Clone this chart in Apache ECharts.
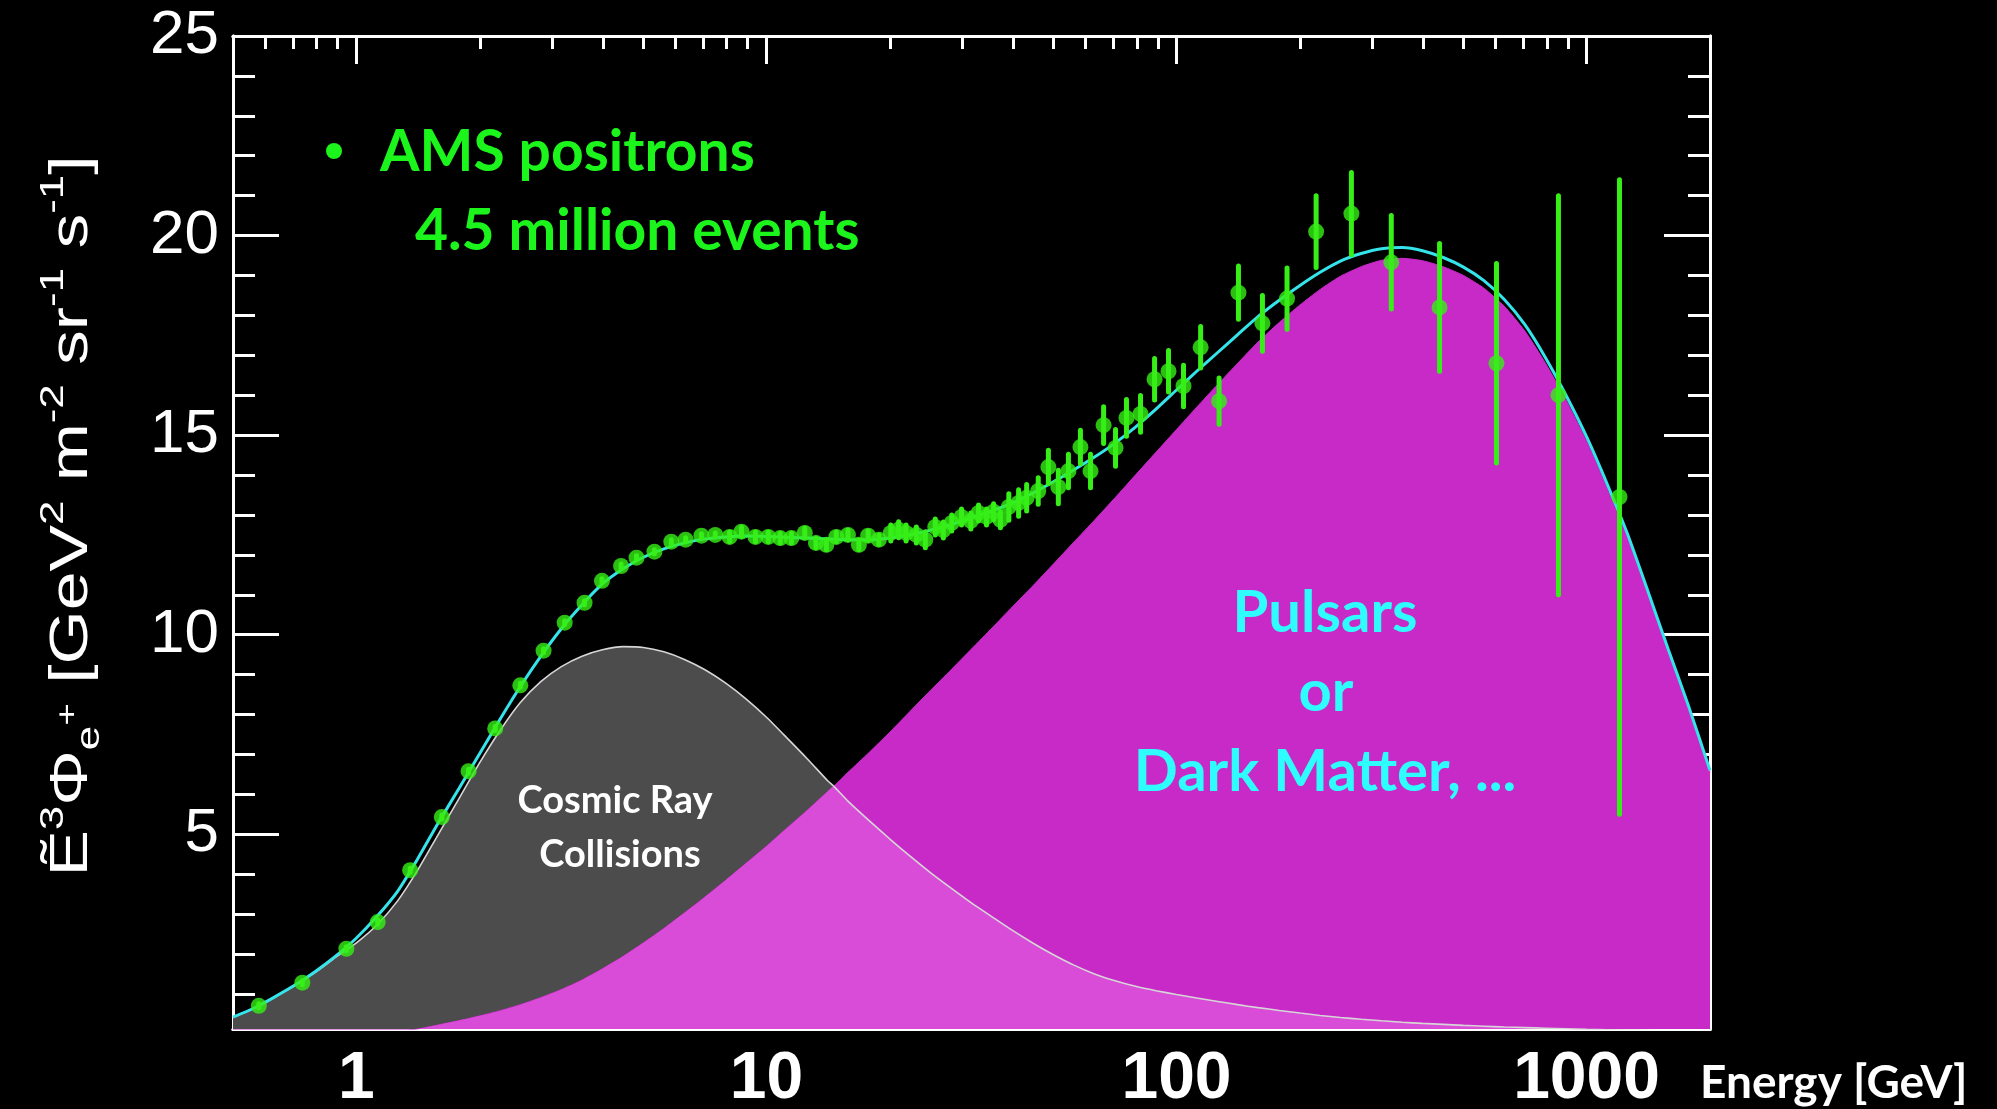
<!DOCTYPE html>
<html><head><meta charset="utf-8">
<script src="https://cdn.jsdelivr.net/npm/echarts@6/dist/echarts.min.js"></script>
<style>html,body{margin:0;padding:0;background:#000;overflow:hidden;} #chart{width:1997px;height:1109px;}</style>
</head><body><div id="chart"></div>
<script>
// ---- model curves ----
const energies = [0.5, 0.562, 0.631, 0.708, 0.794, 0.891, 1, 1.12, 1.26, 1.41, 1.58, 1.78, 2, 2.24, 2.51, 2.82, 3.16, 3.55, 3.98, 4.47, 5.01, 5.62, 6.31, 7.08, 7.94, 8.91, 10, 11.2, 12.6, 14.1, 14.6, 15.8, 17.8, 20, 22.4, 25.1, 28.2, 31.6, 35.5, 39.8, 44.7, 50.1, 56.2, 63.1, 70.8, 79.4, 89.1, 100, 112, 126, 141, 158, 178, 200, 224, 251, 282, 316, 355, 398, 447, 501, 562, 631, 708, 794, 891, 1000, 1120, 1260, 1410, 1580, 1780, 2000];
const crCollisions = [0.42, 0.64, 0.92, 1.21, 1.54, 1.92, 2.28, 2.72, 3.33, 4.10, 4.98, 5.90, 6.80, 7.60, 8.30, 8.83, 9.20, 9.46, 9.62, 9.70, 9.68, 9.57, 9.38, 9.12, 8.79, 8.39, 7.93, 7.42, 6.88, 6.34, 6.20, 5.83, 5.34, 4.88, 4.45, 4.04, 3.65, 3.28, 2.93, 2.59, 2.27, 1.98, 1.72, 1.50, 1.33, 1.19, 1.08, 0.985, 0.895, 0.81, 0.73, 0.655, 0.585, 0.52, 0.46, 0.41, 0.365, 0.325, 0.29, 0.26, 0.235, 0.21, 0.19, 0.17, 0.155, 0.14, 0.125, 0.11, 0.10, 0.09, 0.08, 0.07, 0.06, 0.05];
const sourceTerm = [0, 0, 0, 0, 0, 0, 0, 0, 0.05, 0.12, 0.22, 0.33, 0.45, 0.58, 0.73, 0.91, 1.11, 1.35, 1.63, 1.94, 2.28, 2.64, 3.03, 3.43, 3.84, 4.27, 4.70, 5.15, 5.61, 6.07, 6.20, 6.55, 7.05, 7.56, 8.08, 8.60, 9.12, 9.64, 10.17, 10.70, 11.23, 11.77, 12.32, 12.87, 13.43, 14.00, 14.57, 15.14, 15.70, 16.27, 16.80, 17.33, 17.82, 18.26, 18.65, 18.98, 19.22, 19.38, 19.43, 19.37, 19.22, 19.00, 18.68, 18.22, 17.60, 16.80, 15.88, 14.85, 13.70, 12.42, 11.02, 9.58, 8.10, 6.55];
const totalFit = [0.42, 0.64, 0.92, 1.22, 1.56, 1.95, 2.40, 2.93, 3.57, 4.38, 5.27, 6.15, 7.03, 7.88, 8.70, 9.47, 10.15, 10.75, 11.27, 11.65, 11.94, 12.15, 12.30, 12.40, 12.45, 12.47, 12.46, 12.44, 12.42, 12.40, 12.39, 12.38, 12.38, 12.42, 12.50, 12.62, 12.76, 12.93, 13.10, 13.30, 13.55, 13.83, 14.13, 14.45, 14.80, 15.20, 15.65, 16.13, 16.60, 17.07, 17.52, 17.97, 18.38, 18.75, 19.08, 19.36, 19.55, 19.67, 19.70, 19.62, 19.45, 19.21, 18.87, 18.39, 17.76, 16.94, 16.00, 14.96, 13.80, 12.51, 11.10, 9.65, 8.16, 6.60];

// ---- AMS positron data points ----
const dataE = [0.578, 0.738, 0.945, 1.127, 1.352, 1.615, 1.877, 2.18, 2.51, 2.86, 3.22, 3.60, 3.97, 4.42, 4.82, 5.33, 5.86, 6.35, 6.94, 7.50, 8.13, 8.69, 9.40, 10.1, 10.8, 11.5, 12.4, 13.2, 14.0, 14.8, 15.8, 16.8, 17.7, 18.8, 20.1, 21.0, 21.9, 23.2, 24.4, 25.8, 27.0, 28.3, 29.9, 31.5, 32.9, 34.4, 35.8, 37.2, 39.0, 41.2, 43.1, 46.0, 48.7, 51.5, 54.5, 58.3, 61.7, 66.4, 71.0, 75.5, 81.7, 88.4, 95.6, 104, 114.5, 127, 141.6, 162, 186, 219, 267, 334, 438, 603, 854, 1203];
const dataFlux = [0.70, 1.28, 2.13, 2.80, 4.10, 5.43, 6.58, 7.65, 8.73, 9.60, 10.30, 10.80, 11.35, 11.72, 11.93, 12.08, 12.33, 12.38, 12.48, 12.50, 12.45, 12.58, 12.45, 12.45, 12.42, 12.42, 12.55, 12.30, 12.25, 12.45, 12.50, 12.25, 12.48, 12.38, 12.55, 12.63, 12.55, 12.50, 12.38, 12.70, 12.62, 12.80, 12.95, 12.85, 13.05, 12.95, 13.08, 12.88, 13.20, 13.30, 13.43, 13.60, 14.20, 13.70, 14.10, 14.70, 14.10, 15.25, 14.68, 15.43, 15.53, 16.40, 16.60, 16.23, 17.20, 15.85, 18.57, 17.80, 18.42, 20.10, 20.55, 19.33, 18.20, 16.80, 16.00, 13.45];
const dataErr = [0.05, 0.05, 0.05, 0.05, 0.05, 0.05, 0.05, 0.05, 0.05, 0.05, 0.05, 0.05, 0.05, 0.05, 0.05, 0.05, 0.05, 0.05, 0.05, 0.05, 0.12, 0.12, 0.12, 0.12, 0.12, 0.12, 0.12, 0.12, 0.12, 0.12, 0.12, 0.12, 0.12, 0.12, 0.2, 0.2, 0.2, 0.2, 0.2, 0.2, 0.2, 0.2, 0.2, 0.2, 0.2, 0.2, 0.2, 0.2, 0.33, 0.33, 0.33, 0.33, 0.42, 0.42, 0.42, 0.42, 0.42, 0.46, 0.46, 0.46, 0.46, 0.52, 0.52, 0.52, 0.52, 0.58, 0.67, 0.70, 0.77, 0.90, 1.03, 1.17, 1.60, 2.50, 5.00, 7.95];

// ---- ticks ----
const xMajorTicks = [1, 10, 100, 1000];
const xMinorTicks = [0.6, 0.7, 0.8, 0.9, 2, 3, 4, 5, 6, 7, 8, 9, 20, 30, 40, 50, 60, 70, 80, 90, 200, 300, 400, 500, 600, 700, 800, 900];
const yMajorTicks = [5, 10, 15, 20, 25];
const yMinorTicks = [1, 2, 3, 4, 6, 7, 8, 9, 11, 12, 13, 14, 16, 17, 18, 19, 21, 22, 23, 24];

const C = {
  green: '#36ef16', legendGreen: '#1cf51c', gray: '#4c4c4c', magenta: '#c82ac8',
  pink: '#d84cd8', cyan: '#35e3ea', white: '#ffffff', grayLine: '#d6d6d6', cyanText: '#2ffcfc'
};
const calibri = 'Lato, "Open Sans", sans-serif';
const helv = '"Liberation Sans", Arial, sans-serif';
const SMOOTH = 0.2;

const pairs = arr => energies.map((e, i) => [e, arr[i]]);
const overlap = energies.map((e, i) => [e, Math.min(crCollisions[i], sourceTerm[i])]);

const chart = echarts.init(document.getElementById('chart'), null, {renderer: 'canvas'});

const Y_MIN = 0.12, Y_MAX = 25;
const tickLine = {color: C.white, width: 3};

function xAx(pos, ticks, len, labels) {
  return {
    type: 'log', logBase: 10, min: 0.5, max: 2000, position: pos, gridIndex: 0,
    axisLine: {show: true, lineStyle: {color: C.white, width: 3}},
    axisTick: {show: true, inside: true, length: len, customValues: ticks, lineStyle: tickLine},
    axisLabel: labels ? {
      show: true, customValues: xMajorTicks, formatter: v => String(Math.round(v)),
      color: C.white, fontSize: 66, fontWeight: 'bold', fontFamily: '"Liberation Sans Narrow", "Arial Narrow", "Liberation Sans", sans-serif',
      margin: 18
    } : {show: false},
    splitLine: {show: false}, minorTick: {show: false}
  };
}
function yAx(pos, ticks, len, labels) {
  return {
    type: 'value', min: Y_MIN, max: Y_MAX, position: pos, gridIndex: 0,
    axisLine: {show: true, lineStyle: {color: C.white, width: 3}},
    axisTick: {show: true, inside: true, length: len, customValues: ticks, lineStyle: tickLine},
    axisLabel: labels ? {
      show: true, customValues: yMajorTicks, color: C.white, fontSize: 62,
      fontFamily: helv, margin: 14
    } : {show: false},
    splitLine: {show: false}
  };
}

const option = {
  backgroundColor: '#000000',
  animation: false,
  grid: {left: 233, right: 287, top: 36, bottom: 80, containLabel: false, outerBoundsMode: 'none'},
  xAxis: [
    xAx('bottom', xMajorTicks, 28, true),
    xAx('bottom', xMinorTicks, 13, false),
    xAx('top', xMajorTicks, 28, false),
    xAx('top', xMinorTicks, 13, false)
  ],
  yAxis: [
    yAx('left', yMajorTicks, 46, true),
    yAx('left', yMinorTicks, 22, false),
    yAx('right', yMajorTicks, 46, false),
    yAx('right', yMinorTicks, 22, false)
  ],
  series: [
    {
      name: 'Cosmic Ray Collisions', type: 'line', data: pairs(crCollisions), smooth: SMOOTH,
      showSymbol: false, z: 1, lineStyle: {width: 0}, areaStyle: {color: C.gray, opacity: 1, origin: 'start'}
    },
    {
      name: 'Pulsars or Dark Matter', type: 'line', data: pairs(sourceTerm), smooth: SMOOTH,
      showSymbol: false, z: 2, lineStyle: {width: 1, color: C.magenta}, areaStyle: {color: C.magenta, opacity: 1, origin: 'start'}
    },
    {
      name: 'overlap', type: 'line', data: overlap, smooth: SMOOTH,
      showSymbol: false, z: 3, lineStyle: {width: 0}, areaStyle: {color: C.pink, opacity: 1, origin: 'start'}
    },
    {
      name: 'CR curve', type: 'line', data: pairs(crCollisions), smooth: SMOOTH,
      showSymbol: false, z: 4, lineStyle: {width: 1.6, color: C.grayLine}
    },
    {
      name: 'Total fit', type: 'line', data: pairs(totalFit), smooth: SMOOTH,
      showSymbol: false, z: 5, lineStyle: {width: 3, color: C.cyan}
    },
    {
      name: 'errors', type: 'custom', z: 6,
      data: dataE.map((e, i) => [e, dataFlux[i] - dataErr[i], dataFlux[i] + dataErr[i]]),
      encode: {x: 0, y: [1, 2]},
      renderItem: (params, api) => {
        const a = api.coord([api.value(0), api.value(1)]);
        const b = api.coord([api.value(0), api.value(2)]);
        return {type: 'line', shape: {x1: a[0], y1: a[1], x2: b[0], y2: b[1]},
          style: {stroke: C.green, lineWidth: 5, lineCap: 'round'}};
      }
    },
    {
      name: 'AMS positrons', type: 'scatter', z: 7, symbol: 'circle', symbolSize: 16,
      data: dataE.map((e, i) => [e, dataFlux[i]]), itemStyle: {color: C.green}
    }
  ],
  graphic: [
    {type: 'circle', shape: {cx: 334, cy: 151, r: 8}, style: {fill: C.legendGreen}, z: 20},
    {type: 'text', x: 380, y: 153, z: 20, style: {text: 'AMS positrons', fill: C.legendGreen, font: 'bold 57px ' + calibri, align: 'left', verticalAlign: 'middle'}},
    {type: 'text', x: 415, y: 232, z: 20, style: {text: '4.5 million events', fill: C.legendGreen, font: 'bold 57px ' + calibri, align: 'left', verticalAlign: 'middle'}},
    {type: 'text', x: 615, y: 801, z: 20, style: {text: 'Cosmic Ray', fill: C.white, font: 'bold 38px ' + calibri, align: 'center', verticalAlign: 'middle'}},
    {type: 'text', x: 620, y: 855, z: 20, style: {text: 'Collisions', fill: C.white, font: 'bold 38px ' + calibri, align: 'center', verticalAlign: 'middle'}},
    {type: 'text', x: 1325, y: 613, z: 20, style: {text: 'Pulsars', fill: C.cyanText, font: 'bold 58px ' + calibri, align: 'center', verticalAlign: 'middle'}},
    {type: 'text', x: 1326, y: 692, z: 20, style: {text: 'or', fill: C.cyanText, font: 'bold 58px ' + calibri, align: 'center', verticalAlign: 'middle'}},
    {type: 'text', x: 1325, y: 772, z: 20, style: {text: 'Dark Matter, ...', fill: C.cyanText, font: 'bold 58px ' + calibri, align: 'center', verticalAlign: 'middle'}},
    {type: 'text', x: 1700, y: 1083, z: 20, style: {text: 'Energy [GeV]', fill: C.white, font: 'bold 46px ' + calibri, align: 'left', verticalAlign: 'middle'}},
    {
      type: 'text', x: 72, y: 516, rotation: Math.PI / 2, scaleX: 1.29, z: 20,
      style: {
        text: '{m|Ẽ}{sup|3}{m|Φ}{sub|e}{sp|+}{m| [GeV}{sup|2}{m| m}{sup|-2}{m| sr}{sup|-1}{m| s}{sup|-1}{m|]}',
        align: 'center', verticalAlign: 'middle', fill: C.white,
        rich: {
          m: {fontSize: 54, fontFamily: helv, fill: C.white, lineHeight: 70, verticalAlign: 'middle'},
          sup: {fontSize: 34, fontFamily: helv, fill: C.white, lineHeight: 34, verticalAlign: 'top'},
          sub: {fontSize: 34, fontFamily: helv, fill: C.white, lineHeight: 34, verticalAlign: 'bottom'},
          sp: {fontSize: 30, fontFamily: helv, fill: C.white, lineHeight: 30, verticalAlign: 'middle', padding: [0, 0, 7, 0]}
        }
      }
    }
  ]
};
chart.setOption(option);
</script></body></html>
